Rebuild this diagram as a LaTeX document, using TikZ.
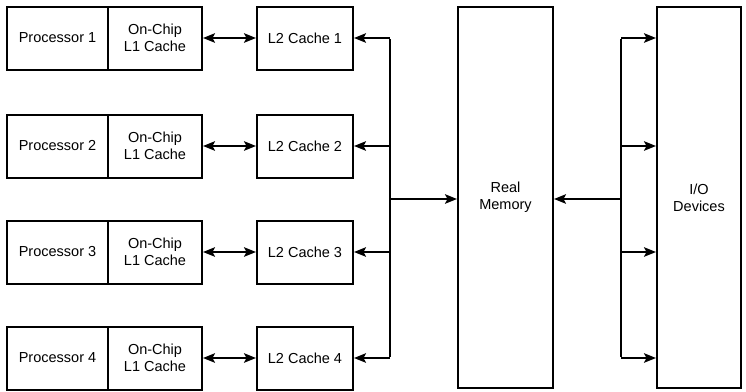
\documentclass[tikz,border=0pt]{standalone}
\usepackage{fontspec}
\setmainfont{Liberation Sans}
\usetikzlibrary{arrows.meta}
\begin{document}
\begin{tikzpicture}[x=1pt,y=-1pt,
  box/.style={draw,line width=2pt,minimum height=63pt,inner sep=0pt,align=center,font=\fontsize{14.5}{17}\selectfont},
  arr/.style={line width=2pt,-{Stealth[length=12pt,width=9.5pt,inset=2.5pt]}},
  darr/.style={line width=2pt,{Stealth[length=12pt,width=9.5pt,inset=2.5pt]}-{Stealth[length=12pt,width=9.5pt,inset=2.5pt]}},
  bus/.style={line width=2pt}]
\useasboundingbox (0,0) rectangle (746,391);
\foreach \i/\y in {1/38,2/146,3/252,4/358}{
  \node[box,minimum width=101pt] (p\i) at (57.5,\y) {Processor \i};
  \node[box,minimum width=94pt] (l\i) at (155,\y) {On-Chip\\L1 Cache};
  \node[box,minimum width=96pt] (c\i) at (305,\y) {L2 Cache \i};
  \draw[darr] (l\i.east) -- (c\i.west);
  \coordinate (b\i) at (390,\y);
  \coordinate (r\i) at (621,\y);
  \draw[arr] (b\i) -- (c\i.east);
}
\node[box,minimum width=95pt,minimum height=381pt] (mem) at (505.5,197.5) {Real\\Memory};
\node[box,minimum width=84pt,minimum height=381pt] (io) at (699,197.5) {I/O\\Devices};
\foreach \i in {1,...,4}{ \draw[arr] (r\i) -- (r\i -| io.west); }
\draw[bus] ([yshift=-1pt]b1) -- ([yshift=1pt]b4);
\draw[bus] ([yshift=-1pt]r1) -- ([yshift=1pt]r4);
\coordinate (bm) at (390,199);
\coordinate (rm) at (621,199);
\draw[arr] (bm) -- (bm -| mem.west);
\draw[arr] (rm) -- (rm -| mem.east);
\end{tikzpicture}
\end{document}
